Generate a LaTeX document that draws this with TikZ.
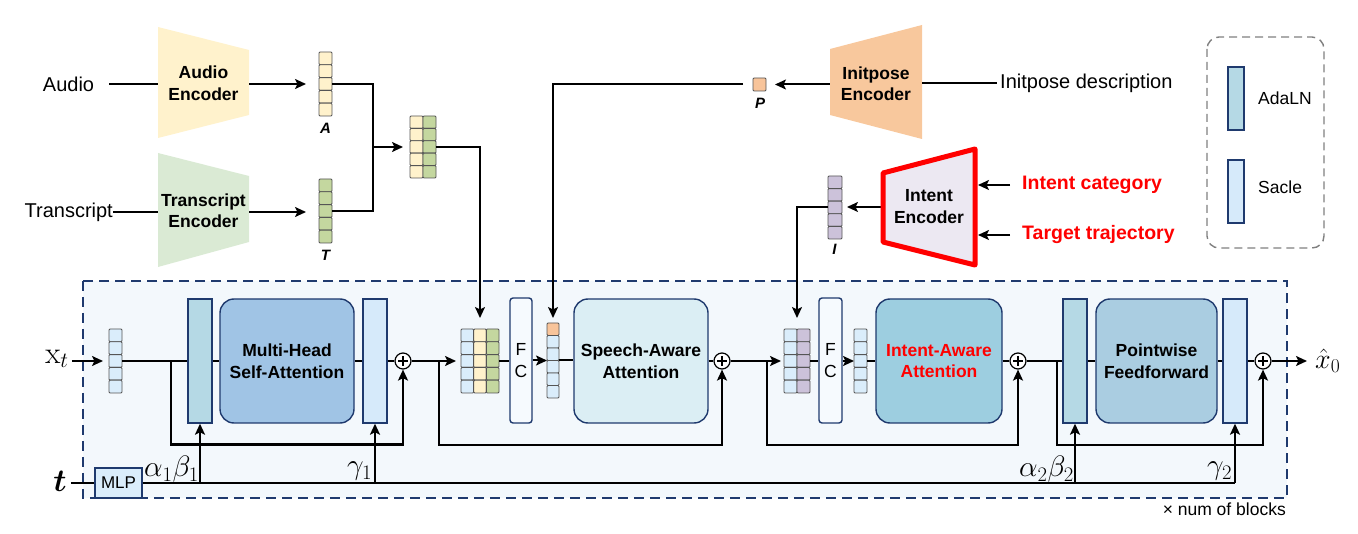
\RequirePackage{fix-cm}
\documentclass[tikz,border=0pt]{standalone}
\usepackage[no-math]{fontspec}
\setmainfont{Liberation Sans}
\usetikzlibrary{arrows.meta,calc}
\definecolor{cAudio}{HTML}{FFF2CC}
\definecolor{cTrans}{HTML}{DAEAD4}
\definecolor{cInit}{HTML}{F8C89D}
\definecolor{cIntF}{HTML}{ECE8F2}
\definecolor{cA}{HTML}{FFF2CC}
\definecolor{cT}{HTML}{C4D79F}
\definecolor{cP}{HTML}{F8C49A}
\definecolor{cI}{HTML}{CCC2DA}
\definecolor{cX}{HTML}{DAEDFB}
\definecolor{cAda}{HTML}{B5D9E5}
\definecolor{cMH}{HTML}{A0C4E5}
\definecolor{cScale}{HTML}{D6EAFA}
\definecolor{cSp}{HTML}{DBEEF4}
\definecolor{cIAA}{HTML}{9DCEE0}
\definecolor{cPF}{HTML}{AACDE1}
\definecolor{cFC}{HTML}{F6FAFE}
\definecolor{dblue}{HTML}{1F3A6E}
\definecolor{bgblue}{HTML}{F3F8FC}
\definecolor{cellgray}{HTML}{555555}
\definecolor{redtxt}{HTML}{FF0000}
\newcommand{\cvec}[6]{% x0 y0 cw ch nrows colorlist
  \foreach \cc [count=\ci from 0] in {#6}{
    \foreach \ri in {1,...,#5}{
      \draw[cell, fill=\cc] ({#1+\ci*#3},{#2+(\ri-1)*#4}) rectangle ++(#3,#4);
    }
  }
}
\begin{document}
\begin{tikzpicture}[x=1pt,y=-1pt,
  conn/.style={line width=2pt},
  skipl/.style={line width=2.2pt},
  arr/.style={conn,-{Stealth[length=11pt,width=10pt,inset=2.5pt]}},
  sarr/.style={skipl,-{Stealth[length=11pt,width=10pt,inset=2.5pt]}},
  cell/.style={draw=cellgray, line width=0.9pt, rounded corners=1pt},
  vnode/.style={inner sep=0pt, outer sep=0pt},
  blk/.style={draw=dblue, line width=1.4pt, inner sep=0pt, minimum height=124, align=center,
    font=\fontsize{17.5}{21.5}\selectfont\bfseries},
  rblk/.style={blk, rounded corners=14pt},
  fcblk/.style={draw=dblue, line width=1.4pt, fill=cFC, rounded corners=3pt, inner sep=0pt,
    minimum width=22, minimum height=125, align=center, font=\fontsize{17.5}{21.5}\selectfont},
  enctxt/.style={inner sep=0pt, minimum height=10, align=center,
    font=\fontsize{17.5}{21.5}\selectfont\bfseries},
  plain/.style={inner sep=0pt, font=\fontsize{20}{22}\selectfont},
  redl/.style={inner sep=0pt, text=redtxt, font=\fontsize{19.5}{22}\selectfont\bfseries},
  veclbl/.style={inner sep=0pt, font=\fontsize{15}{15}\selectfont\bfseries\itshape},
  mathl/.style={inner sep=0pt, font=\fontsize{29.5}{31}\selectfont},
  plusn/.style={circle, draw=black, line width=1.2pt, fill=white, minimum size=16, inner sep=0pt,
    path picture={\draw[line width=1.1pt] ($(path picture bounding box.center)+(-5,0)$) -- ++(10,0);
                  \draw[line width=1.1pt] ($(path picture bounding box.center)+(0,-5)$) -- ++(0,10);}},
]
\useasboundingbox (0,0) rectangle (1358,534);

% ---------- main dashed block ----------
\draw[draw=dblue, fill=bgblue, line width=1.5pt, dash pattern=on 10pt off 6pt] (83,281) rectangle (1287,498);

% ---------- legend ----------
\draw[draw=gray, line width=1.4pt, dash pattern=on 8pt off 5pt, rounded corners=12pt] (1207,37) rectangle (1324,248);
\node[draw=dblue, line width=1.4pt, fill=cAda, minimum width=16, minimum height=63, inner sep=0pt] (legada) at (1236,98.5) {};
\node[anchor=west, inner sep=0pt, font=\fontsize{17.5}{20}\selectfont] (legadat) at (1258,98) {AdaLN};
\node[draw=dblue, line width=1.4pt, fill=cScale, minimum width=16, minimum height=63, inner sep=0pt] (legsc) at (1236,191.5) {};
\node[anchor=west, inner sep=0pt, font=\fontsize{17.5}{20}\selectfont] (legsct) at (1258,187) {Sacle};

% ---------- encoders ----------
\fill[cAudio] (158,27) -- (249,50) -- (249,115) -- (158,138) -- cycle;
\node[enctxt, minimum width=91] (audioenc) at (203.5,83) {Audio\\Encoder};
\fill[cTrans] (158,153) -- (249,176) -- (249,242) -- (158,267) -- cycle;
\node[enctxt, minimum width=91] (transenc) at (203.5,210.5) {Transcript\\Encoder};
\fill[cInit] (830,49) -- (922,25) -- (922,139) -- (830,115) -- cycle;
\node[enctxt, minimum width=92] (initenc) at (876,83.5) {Initpose\\Encoder};

% ---------- input texts ----------
\node[plain] (audio) at (68.5,84) {Audio};
\node[plain, anchor=east] (trans) at (113,212) {Transcript};
\node[plain, anchor=west] (initdesc) at (1000,83) {Initpose description};
\node[redl, anchor=west] (tcat) at (1022,185) {Intent category};
\node[redl, anchor=west] (ttraj) at (1022,235) {Target trajectory};

% ---------- top vectors ----------
\cvec{319}{52}{13}{12.8}{5}{cA}
\node[vnode, minimum width=13, minimum height=64] (A) at (325.5,84) {};
\node[veclbl] (Al) at (325.5,128) {A};
\cvec{319}{179}{13}{12.8}{5}{cT}
\node[vnode, minimum width=13, minimum height=64] (T) at (325.5,211) {};
\node[veclbl] (Tl) at (325.5,255) {T};
\cvec{410}{116}{13}{12.4}{5}{cA,cT}
\node[vnode, minimum width=26, minimum height=62] (AT) at (423,147) {};
\draw[cell, fill=cP] (753,78) rectangle (766,91);
\node[vnode, minimum width=13, minimum height=13] (P) at (759.5,84.5) {};
\node[veclbl] (Pl) at (760,103) {P};
\cvec{828}{176}{14}{12.6}{5}{cI}
\node[vnode, minimum width=14, minimum height=63] (I) at (835,207) {};
\node[veclbl] (Il) at (834.5,249.5) {I};

% ---------- top connectors ----------
\draw[conn, shorten <=15pt] (audio.east) -- (audio.east -| audioenc.west);
\draw[arr, shorten >=13pt] (audio.east -| audioenc.east) -- (audio.east -| A.west);
\draw[conn] (trans.east) -- (trans.east -| transenc.west);
\draw[arr, shorten >=13pt] (trans.east -| transenc.east) -- (trans.east -| T.west);
\coordinate (jat) at (373,147);
\draw[conn] (A.east) -| (jat) |- (T.east);
\draw[arr, shorten >=7pt] (jat) -- (AT.west);
\draw[conn, shorten >=3pt] (initenc.east |- initdesc.west) -- (initdesc.west);
\draw[arr, shorten >=9pt] (initenc.west |- P.east) -- (P.east);

% ---------- intent encoder ----------
\coordinate (iencr) at (975,207);
\coordinate (iencl) at (883,207);
\draw[arr, shorten <=12pt, shorten >=3pt] (tcat.west) -- (tcat.west -| iencr);
\draw[arr, shorten <=12pt, shorten >=3pt] (ttraj.west) -- (ttraj.west -| iencr);
\draw[arr, shorten >=5pt] (iencl) -- (I.east);
\draw[fill=cIntF, draw=red, line width=5pt, line join=round] (883,173) -- (975,149) -- (975,265) -- (883,242) -- cycle;
\node[enctxt, minimum width=92] (ienc) at (929,206.5) {Intent\\Encoder};

% ---------- block content ----------
\cvec{109}{329}{13}{12.8}{5}{cX}
\node[vnode, minimum width=13, minimum height=64] (xt) at (115.5,361) {};
\node[blk, fill=cAda, minimum width=24] (ada1) at (200,361) {};
\node[rblk, fill=cMH, minimum width=134] (mhsa) at (287,361) {Multi-Head\\Self-Attention};
\node[blk, fill=cScale, minimum width=24] (scale1) at (375,361) {};
\node[plusn] (plus1) at (403,361) {};

\cvec{461}{329}{12.667}{12.8}{5}{cX,cA,cT}
\node[vnode, minimum width=38, minimum height=64] (cat3) at (480,361) {};
\node[fcblk] (fc1) at (521,360.5) {F\\C};
\draw[cell, fill=cP] (547,323) rectangle (559,335.5);
\cvec{547}{335.5}{12}{12.5}{5}{cX}
\node[vnode, minimum width=12, minimum height=75] (svec) at (553,360.5) {};
\node[rblk, fill=cSp, minimum width=134] (speech) at (641,361) {Speech-Aware\\Attention};
\node[plusn] (plus2) at (722,361) {};

\cvec{784}{329}{13}{12.8}{5}{cX,cI}
\node[vnode, minimum width=26, minimum height=64] (icat) at (797,361) {};
\node[fcblk, minimum width=23] (fc2) at (830.5,360.5) {F\\C};
\cvec{854}{329}{13}{12.8}{5}{cX}
\node[vnode, minimum width=13, minimum height=64] (svec2) at (860.5,361) {};
\node[rblk, fill=cIAA, minimum width=126, text=redtxt] (iaa) at (939,361) {Intent-Aware\\Attention};
\node[plusn] (plus3) at (1018,361) {};

\node[blk, fill=cAda, minimum width=24] (ada2) at (1075,361) {};
\node[rblk, fill=cPF, minimum width=121] (pf) at (1156.5,361) {Pointwise\\Feedforward};
\node[blk, fill=cScale, minimum width=24] (scale2) at (1235,361) {};
\node[plusn] (plus4) at (1263,361) {};

% labels
\node[mathl, font=\fontsize{31}{33}\selectfont] (xtl) at (57,359) {$\mathrm{x}_t$};
\node[mathl, font=\fontsize{28}{30}\selectfont, anchor=west] (x0l) at (1315,361) {$\hat{x}_0$};
\node[mathl, font=\fontsize{32}{34}\selectfont\boldmath] (tl) at (60,481) {$t$};
\node[draw=dblue, line width=1.3pt, fill=cX, minimum width=47, minimum height=30, inner sep=0pt,
  font=\fontsize{17}{17}\selectfont] (mlp) at (118.5,483) {MLP};
\node[mathl, anchor=base west] (ab1) at (144,477) {$\alpha_1\beta_1$};
\node[mathl, anchor=base west] (g1) at (347,475) {$\gamma_1$};
\node[mathl, anchor=base west] (ab2) at (1019,477) {$\alpha_2\beta_2$};
\node[mathl, anchor=base west] (g2) at (1207,475) {$\gamma_2$};
\node[anchor=east, inner sep=0pt, font=\fontsize{17.5}{18}\selectfont] (nblk) at (1286,509.5) {× num of blocks};

% ---------- block connectors ----------
\draw[arr, shorten <=3pt, shorten >=6pt] (xtl.east |- xt.west) -- (xt.west);
\draw[conn] (xt.east) -- (ada1.west);
\draw[conn] (ada1.east) -- (mhsa.west);
\draw[conn] (mhsa.east) -- (scale1.west);
\draw[conn] (scale1.east) -- (plus1.west);
\draw[arr, shorten >=5pt] (plus1.east) -- (cat3.west);
\draw[conn] (cat3.east) -- (fc1.west |- cat3.east);
\draw[arr] (fc1.east |- svec.west) -- (svec.west);
\draw[conn] (svec.east) -- (speech.west |- svec.east);
\draw[conn] (speech.east) -- (plus2.west);
\draw[arr, shorten >=3pt] (plus2.east) -- (icat.west);
\draw[conn] (icat.east) -- (fc2.west |- icat.east);
\draw[arr] (fc2.east |- svec2.west) -- (svec2.west);
\draw[conn] (svec2.east) -- (iaa.west);
\draw[conn] (iaa.east) -- (plus3.west);
\draw[conn] (plus3.east) -- (ada2.west);
\draw[conn] (ada2.east) -- (pf.west);
\draw[conn] (pf.east) -- (scale2.west);
\draw[conn] (scale2.east) -- (plus4.west);
\draw[arr, shorten >=8pt] (plus4.east) -- (x0l.west |- plus4.east);

% skip connections
\coordinate (b1) at (171,361);
\coordinate (b2) at (439,361);
\coordinate (b3) at (767,361);
\coordinate (b4) at (1057,361);
\draw[sarr] (b1) -- ++(0,83.5) -| (plus1.south);
\draw[sarr] (b2) -- ++(0,84) -| (plus2.south);
\draw[sarr] (b3) -- ++(0,84) -| (plus3.south);
\draw[sarr] (b4) -- ++(0,84) -| (plus4.south);

% incoming from top
\draw[arr, shorten >=11pt] (AT.east) -| (cat3.north);
\draw[arr, shorten <=10pt, shorten >=5pt] (P.west) -| (svec.north);
\draw[arr, shorten >=11pt] (I.west) -| (icat.north);

% time embedding
\draw[line width=1.2pt, shorten <=4pt] (tl.east |- mlp.west) -- (mlp.west);
\draw[skipl] (mlp.east) -- (mlp.east -| scale2.south);
\draw[sarr] (mlp.east -| ada1.south) -- (ada1.south);
\draw[sarr] (mlp.east -| scale1.south) -- (scale1.south);
\draw[sarr] (mlp.east -| ada2.south) -- (ada2.south);
\draw[sarr] (mlp.east -| scale2.south) -- (scale2.south);
\end{tikzpicture}
\end{document}
